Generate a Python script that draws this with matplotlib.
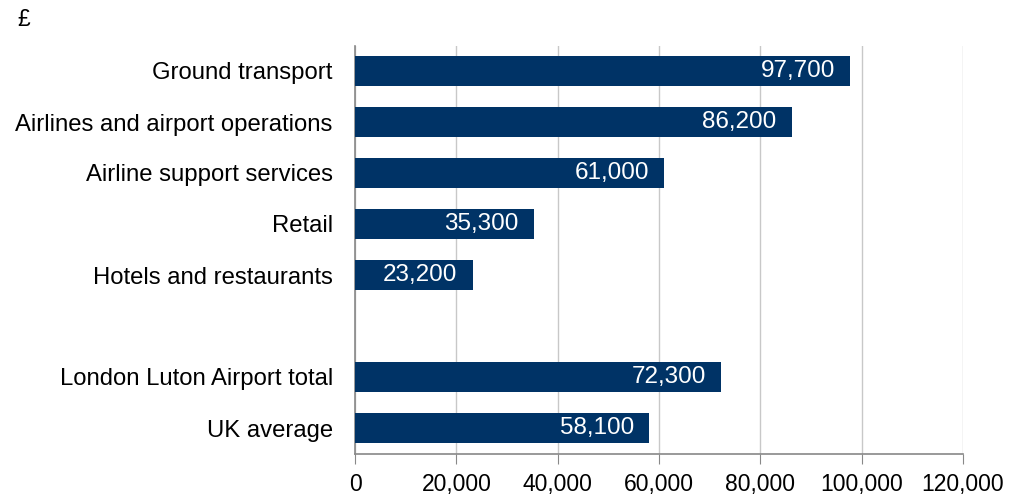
import matplotlib
matplotlib.use("Agg")
import matplotlib.pyplot as plt
from matplotlib.ticker import FuncFormatter

plt.rcParams['font.family'] = ['Liberation Sans', 'DejaVu Sans']

sector_labels = ["Ground transport", "Airlines and airport operations",
                 "Airline support services", "Retail", "Hotels and restaurants"]
sector_values = [97700, 86200, 61000, 35300, 23200]
summary_labels = ["London Luton Airport total", "UK average"]
summary_values = [72300, 58100]
x_ticks = [0, 20000, 40000, 60000, 80000, 100000, 120000]

bar_color = "#003366"

labels = sector_labels + summary_labels
values = sector_values + summary_values
gap = 1
pos = list(range(len(sector_labels))) + [len(sector_labels) + gap + i for i in range(len(summary_labels))]

fig = plt.figure(figsize=(10.19, 4.96), dpi=100)
ax = fig.add_axes([355/1019, 1 - 453.5/496, (963-355)/1019, (453.5-45.5)/496])

bars = ax.barh(pos, values, height=0.59, color=bar_color, zorder=3)
ax.set_ylim(max(pos) + 0.5, -0.5)
ax.set_xlim(0, 120000)
ax.set_yticks(pos)
ax.set_yticklabels(labels, fontsize=17.2)
ax.set_xticks(x_ticks)
ax.xaxis.set_major_formatter(FuncFormatter(lambda v, p: f"{int(v):,}"))
ax.tick_params(axis='x', labelsize=16.5, length=7, color='#888888', direction='out', pad=7)
ax.tick_params(axis='y', length=0, pad=16)
ax.grid(axis='x', color='#c8c8c8', linewidth=1, zorder=0)

for side in ['top', 'right']:
    ax.spines[side].set_visible(False)
for side in ['left', 'bottom']:
    ax.spines[side].set_color('#888888')
    ax.spines[side].set_linewidth(1.2)

for b, v in zip(bars, values):
    ax.annotate(f"{v:,}", xy=(b.get_width(), b.get_y() + b.get_height()/2),
                xytext=(-15, 0), textcoords='offset pixels',
                ha='right', va='center', color='white', fontsize=17.5, zorder=4)

fig.text(17/1019, 1 - 20/496, "£", fontsize=16.5, va='center', ha='left')

fig.savefig("out.png", dpi=100)
